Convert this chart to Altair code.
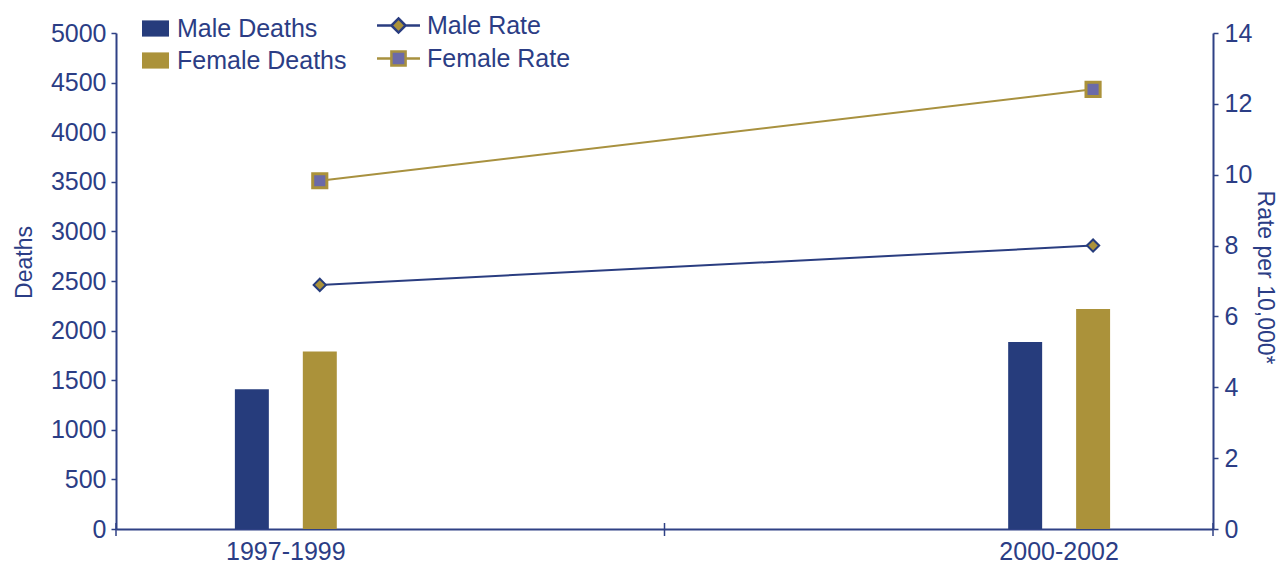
import altair as alt
import pandas as pd

# ---- data ----
periods = ["1997-1999", "2000-2002"]
death_series = ["Male Deaths", "Female Deaths"]
male_deaths = [1410, 1885]
female_deaths = [1790, 2218]
rate_series = ["Male Rate", "Female Rate"]
male_rate = [6.89, 8.0]
female_rate = [9.83, 12.41]
deaths_ticks = list(range(0, 5001, 500))
rate_ticks = list(range(0, 15, 2))
x_tick_positions = [0, 1, 2]

NAVY = "#263C7C"
GOLD = "#AB923A"
TEXT = "#2B3D85"
PURPLE = "#6B6AA8"
AXIS = "#2F4185"
LINE_NAVY = "#2A3D80"
LINE_GOLD = "#A8913F"
FONT = "Liberation Sans, Arial, sans-serif"
LABEL_SIZE = 25
TITLE_SIZE = 23

W, H = 1097, 496

deaths_df = pd.DataFrame({
    "period": periods * 2,
    "series": [death_series[0]] * 2 + [death_series[1]] * 2,
    "deaths": male_deaths + female_deaths,
})
rates_df = pd.DataFrame({
    "period": periods * 2,
    "rseries": [rate_series[0]] * 2 + [rate_series[1]] * 2,
    "rate": male_rate + female_rate,
})
ticks_df = pd.DataFrame({"pos": x_tick_positions})

x_scale = alt.Scale(type="band", domain=periods, paddingInner=0.8682,
                    paddingOuter=0.1434, align=0.536)
rate_scale = alt.Scale(domain=[0, 14], nice=False, zero=True)

bar_legend = alt.Legend(
    title=None, orient="none", legendX=26, legendY=-18, padding=0,
    symbolType="M-1,-0.6H1V0.6H-1Z", symbolSize=729, symbolStrokeWidth=0,
    labelFont=FONT, labelFontSize=LABEL_SIZE, labelColor=TEXT, labelOffset=8,
    labelLimit=400, rowPadding=5,
)

bars = alt.Chart(deaths_df).mark_bar().encode(
    x=alt.X("period:N", scale=x_scale, sort=periods,
            axis=alt.Axis(title=None, ticks=False, labelAngle=0, labelFontSize=LABEL_SIZE,
                          labelFont=FONT, labelColor=TEXT, labelPadding=10,
                          domainColor=AXIS, domainWidth=2)),
    xOffset=alt.XOffset("series:N", sort=death_series,
                        scale=alt.Scale(domain=death_series, paddingInner=0.5, paddingOuter=0)),
    y=alt.Y("deaths:Q", scale=alt.Scale(domain=[0, 5000], nice=False),
            axis=alt.Axis(orient="left", values=deaths_ticks, format="d", title="Deaths",
                          grid=False, titleAngle=270, titleX=-85, titleY=229,
                          titleBaseline="alphabetic", titleAlign="center", titleFont=FONT,
                          titleFontSize=TITLE_SIZE, titleFontWeight="normal", titleColor=TEXT,
                          labelFont=FONT, labelFontSize=LABEL_SIZE, labelColor=TEXT,
                          labelPadding=5, tickSize=5, tickColor=AXIS, tickWidth=1.5,
                          domainColor=AXIS, domainWidth=2)),
    color=alt.Color("series:N", sort=death_series,
                    scale=alt.Scale(domain=death_series, range=[NAVY, GOLD]), legend=bar_legend),
)

xticks = alt.Chart(ticks_df).mark_rule(color=AXIS, strokeWidth=1.5).encode(
    x=alt.X("pos:Q", scale=alt.Scale(domain=[0, 2], nice=False, zero=False), axis=None),
    y=alt.value(H - 6),
    y2=alt.value(H + 7),
)

rate_legend = alt.Legend(
    title=None, orient="none", legendX=270, legendY=-20, padding=0,
    symbolSize=462, symbolStrokeWidth=2.5, symbolOpacity=1,
    labelFont=FONT, labelFontSize=LABEL_SIZE, labelColor=TEXT, labelOffset=16,
    labelLimit=400, rowPadding=7,
)

DIAMOND_PATH = "M-2,0H-0.66M0.66,0H2M0,-0.66L0.66,0L0,0.66L-0.66,0Z"
SQUARE_PATH = "M-2,0H-0.66M0.66,0H2M-0.66,-0.66H0.66V0.66H-0.66Z"

stroke_scale = alt.Scale(domain=rate_series, range=[LINE_NAVY, LINE_GOLD])

rate_axis = alt.Axis(orient="right", values=rate_ticks, format="d", title="Rate per 10,000*",
                     grid=False, titleAngle=90, titleX=44, titleY=244,
                     titleBaseline="alphabetic", titleAlign="center", titleFont=FONT,
                     titleFontSize=TITLE_SIZE, titleFontWeight="normal", titleColor=TEXT,
                     labelFont=FONT, labelFontSize=LABEL_SIZE, labelColor=TEXT, labelPadding=6,
                     tickSize=5, tickColor=AXIS, tickWidth=1.5,
                     domainColor=AXIS, domainWidth=2)

x_line = alt.X("period:N", scale=x_scale, sort=periods, bandPosition=0.833, axis=None)
y_rate = alt.Y("rate:Q", scale=rate_scale, axis=rate_axis)

line = alt.Chart(rates_df).mark_line(strokeWidth=2).encode(
    x=x_line,
    y=y_rate,
    stroke=alt.Stroke("rseries:N", sort=rate_series, scale=stroke_scale, legend=rate_legend),
)

pts_m = alt.Chart(rates_df).transform_filter(alt.datum.rseries == rate_series[0]).mark_point(
    shape="diamond", filled=True, fill=GOLD, stroke=NAVY, strokeWidth=2, size=150, opacity=1
).encode(x=x_line, y=y_rate)

pts_f = alt.Chart(rates_df).transform_filter(alt.datum.rseries == rate_series[1]).mark_point(
    shape="square", filled=True, fill=PURPLE, stroke=GOLD, strokeWidth=3, size=200, opacity=1
).encode(x=x_line, y=y_rate)

legend_pts = alt.Chart(rates_df).mark_point(filled=True, opacity=0).encode(
    x=x_line,
    y=y_rate,
    stroke=alt.Stroke("rseries:N", sort=rate_series, scale=stroke_scale, legend=rate_legend),
    fill=alt.Fill("rseries:N", sort=rate_series,
                  scale=alt.Scale(domain=rate_series, range=[GOLD, PURPLE]), legend=rate_legend),
    shape=alt.Shape("rseries:N", sort=rate_series,
                    scale=alt.Scale(domain=rate_series, range=[DIAMOND_PATH, SQUARE_PATH]),
                    legend=rate_legend),
)

rates = alt.layer(line, pts_m, pts_f, legend_pts)

chart = alt.layer(bars, xticks, rates).resolve_scale(
    x="independent", y="independent"
).properties(
    width=W, height=H,
    background="white",
    autosize=alt.AutoSizeParams(type="none"),
    padding={"left": 108, "top": 25, "right": 67, "bottom": 36},
).configure_view(stroke=None)

chart.save("out.html", embed_options={"renderer": "svg", "actions": False})
